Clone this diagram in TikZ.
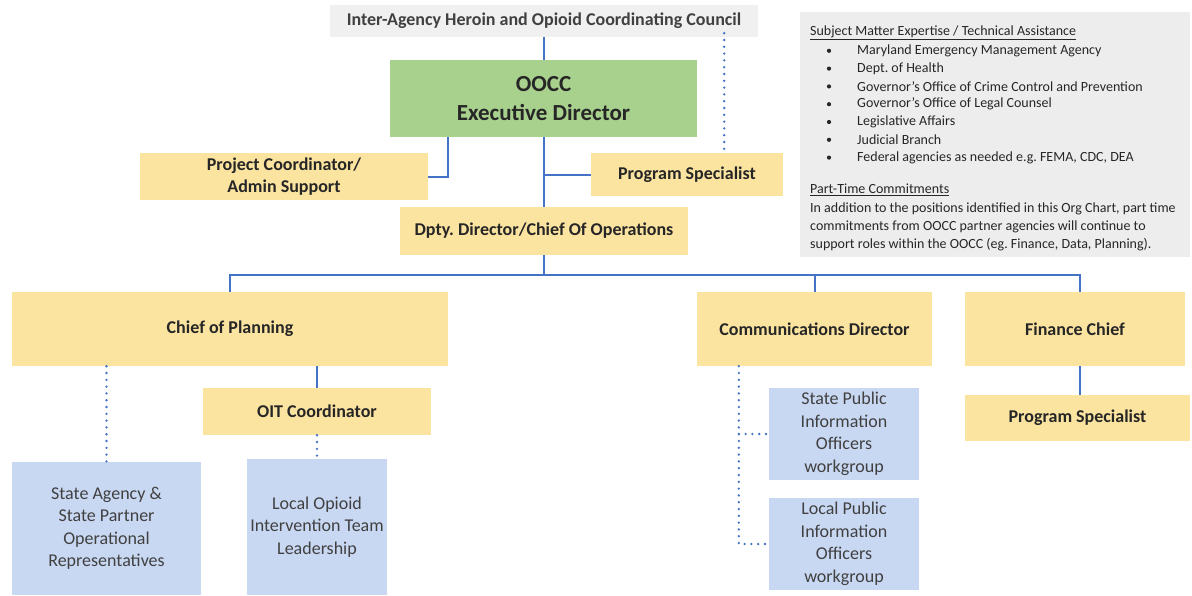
\documentclass[tikz,border=0pt]{standalone}
\usepackage{fontspec}
\setmainfont{Carlito}
\usetikzlibrary{calc}
\frenchspacing
\definecolor{gold}{HTML}{FBE3A0}
\definecolor{leaf}{HTML}{A9D18E}
\definecolor{sky}{HTML}{C9D8F2}
\definecolor{mist}{HTML}{F0F0F0}
\definecolor{panel}{HTML}{EDEDED}
\definecolor{wire}{HTML}{4472C4}
\definecolor{ink}{HTML}{262626}
\definecolor{softink}{HTML}{404040}
\tikzset{
  box/.style={inner sep=2pt, align=center, text=ink, font=\bfseries\fontsize{18}{22}\selectfont},
  ybox/.style={box, fill=gold},
  gbox/.style={box, fill=leaf, font=\bfseries\fontsize{23}{29}\selectfont},
  bbox/.style={inner sep=2pt, align=center, fill=sky, text=softink, font=\fontsize{18}{22.5}\selectfont},
  solidwire/.style={draw=wire, line width=2pt},
  dotwire/.style={draw=wire, line width=2.6pt, line cap=round, dash pattern=on 0pt off 6.8pt},
  note/.style={anchor=west, inner sep=0pt, text=ink, font=\fontsize{14}{16}\selectfont},
}
\begin{document}
\frenchspacing
\begin{tikzpicture}[x=1pt,y=-1pt]
\useasboundingbox (0,0) rectangle (1192,595);
\fill[white] (0,0) rectangle (1192,595);

% top of the hierarchy
\node[box, fill=mist, text=softink, minimum width=428pt, minimum height=32pt] (council) at (544,21) {Inter-Agency Heroin and Opioid Coordinating Council};
\node[gbox, minimum width=307pt, minimum height=77pt] (oocc) at (543.5,98.5) {OOCC\\Executive Director};
\node[ybox, minimum width=288pt, minimum height=47pt] (pc) at (284,176.5) {Project Coordinator/\\Admin Support};
\node[ybox, minimum width=192pt, minimum height=43pt] (ps) at (687,174.5) {Program Specialist};
\node[ybox, minimum width=288pt, minimum height=48pt] (dpty) at (544,231) {Dpty. Director/Chief Of Operations};

% department heads
\node[ybox, minimum width=436pt, minimum height=74pt] (cp) at (230,329) {Chief of Planning};
\node[ybox, minimum width=235pt, minimum height=74pt] (cd) at (814.5,329) {Communications Director};
\node[ybox, minimum width=220pt, minimum height=74pt] (fc) at (1075,329) {Finance Chief};
\node[ybox, minimum width=225pt, minimum height=46pt] (ps2) at (1077.5,418) {Program Specialist};
\node[ybox, minimum width=228pt, minimum height=47pt] (oit) at (317,411.5) {OIT Coordinator};

% workgroups and partners
\node[bbox, minimum width=189pt, minimum height=133pt] (sa) at (106.5,528.5) {State Agency \&\\State Partner\\Operational\\Representatives};
\node[bbox, minimum width=140pt, minimum height=136pt] (lo) at (317,527) {Local Opioid\\Intervention Team\\Leadership};
\node[bbox, minimum width=150pt, minimum height=92pt] (spio) at (844,434) {State Public\\Information\\Officers\\workgroup};
\node[bbox, minimum width=150pt, minimum height=92pt] (lpio) at (844,544) {Local Public\\Information\\Officers\\workgroup};

% reporting lines
\draw[solidwire] (oocc.north |- council.south) -- (oocc.north);
\draw[solidwire] (oocc.south) -- (dpty.north -| oocc.south);
\draw[solidwire] ([xshift=58pt]oocc.south west) |- (pc.east);
\draw[solidwire] (oocc.south |- ps.west) -- (ps.west);
\draw[solidwire] (dpty.south) -- ++(0,20) coordinate (bus);
\draw[solidwire] (cp.north) -- (cp.north |- bus) -- ([xshift=5pt]fc.north |- bus) -- ([xshift=5pt]fc.north);
\draw[solidwire] (cd.north |- bus) -- (cd.north);
\draw[solidwire] ([xshift=5pt]fc.south) -- ([xshift=5pt]fc.south |- ps2.north);
\draw[solidwire] (oit.north |- cp.south) -- (oit.north);

% advisory lines
\draw[dotwire] ([xshift=-34pt,yshift=4pt]council.south east) -- ([xshift=-34pt]council.south east |- ps.north);
\draw[dotwire] (sa.north |- cp.south) -- (sa.north);
\draw[dotwire] (oit.south) -- (lo.north);
\draw[dotwire] ([xshift=42pt]cd.south west) coordinate (cdot) |- (lpio.west);
\draw[dotwire] (cdot |- spio.west) -- (spio.west);

% support panel
\node[fill=panel, minimum width=390pt, minimum height=245pt, inner sep=0pt] (panel) at (995,134.5) {};
\node[note] (smh) at (810,33) {\underline{Subject Matter Expertise / Technical Assistance}};
\foreach \t [count=\i] in {Maryland Emergency Management Agency, Dept. of Health, Governor's Office of Crime Control and Prevention, Governor's Office of Legal Counsel, Legislative Affairs, Judicial Branch, {Federal agencies as needed e.g. FEMA, CDC, DEA}} {
  \node[note] (b\i) at (857,{33+17.8*\i}) {\t};
  \fill[ink] (829,{33+17.8*\i}) circle (2.1pt);
}
\node[note] (pth) at (810,190) {\underline{Part-Time Commitments}};
\node[note] (pt1) at (810,209) {In addition to the positions identified in this Org Chart, part time};
\node[note] (pt2) at (810,227) {commitments from OOCC partner agencies will continue to};
\node[note] (pt3) at (810,245) {support roles within the OOCC (eg. Finance, Data, Planning).};
\end{tikzpicture}
\end{document}
